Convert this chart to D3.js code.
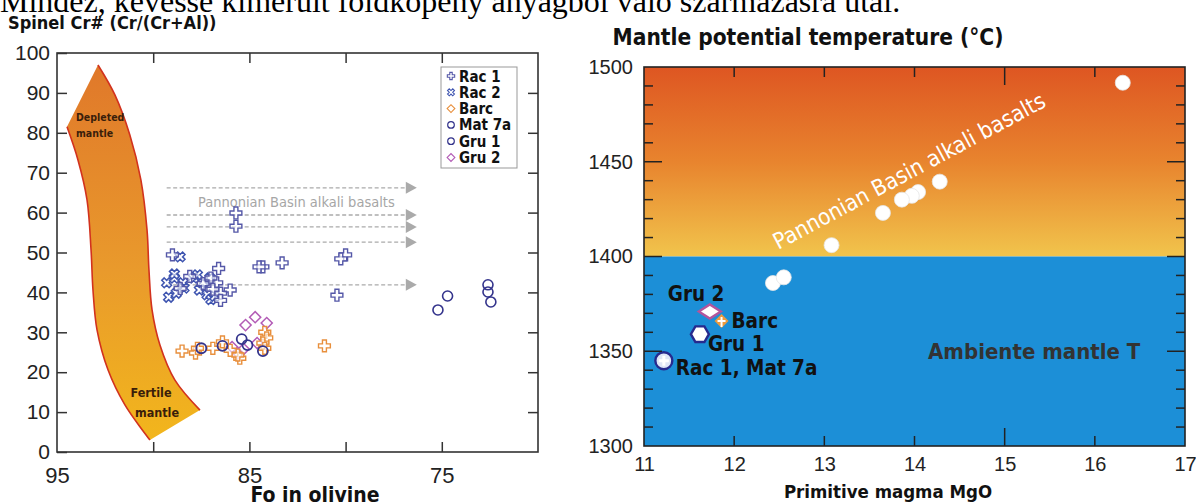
<!DOCTYPE html>
<html>
<head>
<meta charset="utf-8">
<script src="https://cdn.jsdelivr.net/npm/d3@7"></script>
<style>
  html, body { margin: 0; padding: 0; background: #fff; }
  svg { display: block; }
  .tick text { font-family: "Liberation Sans", Arial, sans-serif; fill: #222; }
  .comic { font-family: "DejaVu Sans Condensed", "DejaVu Sans", sans-serif; font-weight: bold; }
</style>
</head>
<body>
<svg id="chart" width="1196" height="504"></svg>
<script>
// ---- left panel data: spinel Cr# vs Fo in olivine ----
const rac1 = [[85.7,59.9],[85.7,56.6],[80.0,49.4],[80.25,48.4],[83.3,47.4],[84.3,46.4],[80.45,39.3],
  [89.0,49.4],[86.6,46.0],[84.5,46.4],[86.7,42.4],[86.0,40.6],[86.5,39.8],[86.5,38.0],
  [88.1,44.0],[87.4,42.2],[87.0,43.6],[86.9,40.8],[88.6,41.0]];
const rac2 = [[89.3,42.4],[88.9,43.6],[88.45,42.4],[87.9,43.6],[87.4,42.4],[87.05,43.6],[89.2,38.8],
  [88.4,41.1],[87.6,40.6],[88.8,39.8],[88.6,48.9],[88.9,44.6],[87.7,44.4],[87.2,39.4],[87.0,38.2],[86.8,39.0]];
const barc = [[88.5,25.3],[87.8,24.8],[87.7,26.0],[86.9,26.0],[86.4,27.6],[85.5,23.5],[85.6,24.3],
  [84.2,30.0],[84.1,28.6],[84.3,27.3],[81.1,26.6],[86.0,25.5],[84.2,26.0]];
const mat7a = [[75.2,35.6],[74.7,39.1],[72.6,41.9],[72.6,40.1],[72.45,37.6]];
const gru1 = [[87.5,26.0],[86.4,26.6],[85.4,28.3],[85.1,26.8],[84.3,25.3]];
const gru2 = [[84.7,33.8],[85.2,31.8],[84.1,32.3],[85.9,26.3],[84.6,27.3],[85.6,24.8],[85.3,25.8]];
const legendNames = ["Rac 1", "Rac 2", "Barc", "Mat 7a", "Gru 1", "Gru 2"];

// Pannonian Basin alkali basalt Cr# levels (dashed arrows) and their Fo span
const basaltCr = [66.2, 59.4, 56.4, 52.6, 41.9];
const basaltFo = [89.3, 76.3];

// mantle array band (Fo, Cr#)
const bandRight = [[92.87,97.0],[91.99,89.5],[91.21,79.4],[90.64,68.2],[90.32,55.6],[90.22,45.6],
  [90.06,35.6],[89.65,26.8],[88.87,18.0],[87.57,10.5]];
const bandLeft = [[94.48,81.5],[93.91,73.2],[93.44,63.2],[93.23,50.6],[93.13,40.6],[92.92,30.6],
  [92.35,20.6],[91.47,11.8],[90.17,3.0]];

const leftYTicks = d3.range(0, 101, 10);
const leftXTicks = [95, 90, 85, 80, 75, 70];
const leftXLabels = [95, 85, 75];

// ---- right panel data: mantle potential temperature vs primitive magma MgO ----
const basaltMgO = [16.31, 14.28, 14.04, 13.97, 13.86, 13.65, 13.08, 12.43, 12.55];
const basaltT = [1491.7, 1439.5, 1434, 1432, 1430, 1423, 1406, 1386, 1389];
const sampleNames = ["Gru 2", "Barc", "Gru 1", "Rac 1, Mat 7a"];
const sampleMgO = [11.73, 11.86, 11.62, 11.22];
const sampleT = [1371, 1366, 1359, 1345];
const rightXTicks = [11, 12, 13, 14, 15, 16, 17];
const rightYTicks = [1300, 1350, 1400, 1450, 1500];
const ambientT = 1400;

const svg = d3.select("#chart");
const defs = svg.append("defs");
const fmt = d3.format("d");

// caption line cut off at the top of the picture
svg.append("text")
  .attr("x", 0).attr("y", 12)
  .style("font-family", "'Liberation Serif', 'Times New Roman', serif")
  .style("font-size", "32px")
  .text("Mindez, kevésse kimerült földköpeny anyagból való származásra utal.");

// ================= LEFT PANEL =================
const xL = d3.scaleLinear().domain([95, 70]).range([57, 538]);
const yL = d3.scaleLinear().domain([0, 100]).range([452, 53]);
const gL = svg.append("g");

const bandGrad = defs.append("linearGradient").attr("id", "bandGrad")
  .attr("x1", 0).attr("y1", 0).attr("x2", 0).attr("y2", 1);
bandGrad.append("stop").attr("offset", "0%").attr("stop-color", "#e0782a");
bandGrad.append("stop").attr("offset", "55%").attr("stop-color", "#e99a2c");
bandGrad.append("stop").attr("offset", "100%").attr("stop-color", "#f2b61c");

const curve = d3.line().x(d => xL(d[0])).y(d => yL(d[1])).curve(d3.curveCatmullRom);
const bandPath = "M" + curve(bandRight).slice(1) + "L" + curve(bandLeft.slice().reverse()).slice(1) + "Z";
gL.append("path").attr("d", bandPath).attr("fill", "url(#bandGrad)");
gL.append("path").attr("d", curve(bandRight)).attr("fill", "none").attr("stroke", "#d2321e").attr("stroke-width", 1.6);
gL.append("path").attr("d", curve(bandLeft)).attr("fill", "none").attr("stroke", "#d2321e").attr("stroke-width", 1.6);

gL.append("text").attr("class", "comic").attr("x", 76).attr("y", 121)
  .style("font-size", "10.5px").attr("fill", "#3a1e0a").text("Depleted");
gL.append("text").attr("class", "comic").attr("x", 76).attr("y", 137)
  .style("font-size", "10.5px").attr("fill", "#3a1e0a").text("mantle");
gL.append("text").attr("class", "comic").attr("x", 151).attr("y", 397).attr("text-anchor", "middle")
  .style("font-size", "12.5px").attr("fill", "#3a1e0a").text("Fertile");
gL.append("text").attr("class", "comic").attr("x", 157).attr("y", 417).attr("text-anchor", "middle")
  .style("font-size", "12.5px").attr("fill", "#3a1e0a").text("mantle");

// dashed arrows for Pannonian basalts
const arrowG = gL.append("g");
basaltCr.forEach(c => {
  const x0 = xL(basaltFo[0]), x1 = xL(basaltFo[1]), y = yL(c);
  arrowG.append("line").attr("x1", x0).attr("x2", x1 - 9).attr("y1", y).attr("y2", y)
    .attr("stroke", "#aaa").attr("stroke-width", 1.3).attr("stroke-dasharray", "4,2.5");
  arrowG.append("path").attr("d", `M${x1 - 11},${y - 6}L${x1},${y}L${x1 - 11},${y + 6}Z`).attr("fill", "#aaa");
});
gL.append("text").attr("x", 198).attr("y", 207)
  .style("font-family", "'DejaVu Sans Condensed', 'DejaVu Sans', sans-serif").style("font-size", "14.5px")
  .attr("fill", "#a6a6a6").text("Pannonian Basin alkali basalts");

// symbols
const crossPath = d3.symbol(d3.symbolCross, 78)();
const xPath = d3.symbol(d3.symbolCross, 60)();
const diamPath = d3.symbol(d3.symbolSquare, 62)();
const styles = {
  "Rac 1": { data: rac1, d: crossPath, rot: 0, color: "#5558a8", sw: 1.4 },
  "Rac 2": { data: rac2, d: xPath, rot: 45, color: "#3f55b0", sw: 1.5 },
  "Barc": { data: barc, d: crossPath, rot: 0, color: "#e88f3c", sw: 1.4 },
  "Mat 7a": { data: mat7a, circle: 5, color: "#34348c", sw: 1.6 },
  "Gru 1": { data: gru1, circle: 5, color: "#34348c", sw: 1.8 },
  "Gru 2": { data: gru2, d: diamPath, rot: 45, color: "#b35cb6", sw: 1.5 }
};
["Gru 2", "Barc", "Gru 1", "Mat 7a", "Rac 2", "Rac 1"].forEach(name => {
  const s = styles[name];
  const sel = gL.append("g").selectAll("g").data(s.data).join("g")
    .attr("transform", d => `translate(${xL(d[0])},${yL(d[1])})`);
  if (s.circle) {
    sel.append("circle").attr("r", s.circle).attr("fill", "none")
      .attr("stroke", s.color).attr("stroke-width", s.sw);
  } else {
    sel.append("path").attr("d", s.d).attr("transform", `rotate(${s.rot})`)
      .attr("fill", "rgba(255,255,255,0.6)").attr("stroke", s.color).attr("stroke-width", s.sw);
  }
});

// legend
const leg = gL.append("g").attr("transform", "translate(441,67)");
leg.append("rect").attr("width", 76).attr("height", 101).attr("fill", "#fff")
  .attr("stroke", "#999").attr("stroke-width", 1);
legendNames.forEach((name, i) => {
  const s = styles[name];
  const row = leg.append("g").attr("transform", `translate(10,${9 + i * 16.3})`);
  if (s.circle) {
    row.append("circle").attr("r", 3.3).attr("fill", "none").attr("stroke", s.color).attr("stroke-width", 1.2);
  } else {
    const type = name === "Gru 2" || name === "Barc" ? d3.symbolSquare : d3.symbolCross;
    const rot = name === "Barc" ? 45 : s.rot;
    row.append("path").attr("d", d3.symbol(type, 30)())
      .attr("transform", `rotate(${rot})`).attr("fill", "none").attr("stroke", s.color).attr("stroke-width", 1.1);
  }
  row.append("text").attr("class", "comic").attr("x", 8).attr("y", 5.5)
    .style("font-size", "15px").attr("fill", "#111").text(name);
});

// frame and axes
gL.append("rect").attr("x", xL(95)).attr("y", yL(100)).attr("width", xL(70) - xL(95))
  .attr("height", yL(0) - yL(100)).attr("fill", "none").attr("stroke", "#333").attr("stroke-width", 1.6);
gL.append("g").attr("transform", `translate(${xL(95)},0)`)
  .call(d3.axisLeft(yL).tickValues(leftYTicks).tickSize(-10).tickPadding(7))
  .call(g => g.select(".domain").remove())
  .call(g => g.selectAll("text").style("font-size", "21px"));
gL.append("g").attr("transform", `translate(${xL(70)},0)`)
  .call(d3.axisRight(yL).tickValues(leftYTicks.slice(1, -1)).tickSize(-10).tickFormat(""))
  .call(g => g.select(".domain").remove());
gL.append("g").attr("transform", `translate(0,${yL(0)})`)
  .call(d3.axisBottom(xL).tickValues(leftXTicks).tickSize(-10).tickPadding(15)
    .tickFormat(d => leftXLabels.includes(d) ? d : ""))
  .call(g => g.select(".domain").remove())
  .call(g => g.selectAll(".tick").filter(d => d === 95 || d === 70).select("line").remove())
  .call(g => g.selectAll("text").style("font-size", "22px"));
gL.append("g").attr("transform", `translate(0,${yL(100)})`)
  .call(d3.axisTop(xL).tickValues(leftXTicks.slice(1, -1)).tickSize(-10).tickFormat(""))
  .call(g => g.select(".domain").remove());
gL.selectAll(".tick line").attr("stroke", "#333").attr("stroke-width", 1.5);

svg.append("text").attr("class", "comic").attr("x", 8).attr("y", 29)
  .style("font-size", "18px").attr("fill", "#111").text("Spinel Cr# (Cr/(Cr+Al))");
svg.append("text").attr("class", "comic").attr("x", 315).attr("y", 502).attr("text-anchor", "middle")
  .style("font-size", "21px").attr("fill", "#111").text("Fo in olivine");

// ================= RIGHT PANEL =================
const xR = d3.scaleLinear().domain([11, 17]).range([644, 1185]);
const yR = d3.scaleLinear().domain([1300, 1500]).range([446, 67]);
const gR = svg.append("g");

const hotGrad = defs.append("linearGradient").attr("id", "hotGrad")
  .attr("x1", 0).attr("y1", 0).attr("x2", 0).attr("y2", 1);
hotGrad.append("stop").attr("offset", "0%").attr("stop-color", "#de5622");
hotGrad.append("stop").attr("offset", "50%").attr("stop-color", "#e8842e");
hotGrad.append("stop").attr("offset", "100%").attr("stop-color", "#f1c44c");

gR.append("rect").attr("x", xR(11)).attr("y", yR(1500)).attr("width", xR(17) - xR(11))
  .attr("height", yR(ambientT) - yR(1500)).attr("fill", "url(#hotGrad)");
gR.append("rect").attr("x", xR(11)).attr("y", yR(ambientT)).attr("width", xR(17) - xR(11))
  .attr("height", yR(1300) - yR(ambientT)).attr("fill", "#1c8fd7");

gR.append("text").attr("transform", `translate(${xR(12.49)},${yR(1403.4)}) rotate(-28.2)`)
  .style("font-family", "'DejaVu Sans Condensed', 'DejaVu Sans', sans-serif").style("font-size", "22.5px")
  .attr("fill", "#fff").text("Pannonian Basin alkali basalts");

gR.append("g").selectAll("circle").data(basaltMgO).join("circle")
  .attr("cx", d => xR(d)).attr("cy", (d, i) => yR(basaltT[i])).attr("r", 7.5)
  .attr("fill", "#fff").attr("stroke", "#e6e6e6").attr("stroke-width", 0.8);

gR.append("text").attr("class", "comic").attr("x", xR(14.15)).attr("y", yR(1346))
  .style("font-size", "22px").attr("fill", "#333").text("Ambiente mantle T");

// sample markers
const labelOffsets = [[-42, -10], [10, 7], [8, 17], [12, 14]];
const sampleG = gR.append("g");
sampleNames.forEach((name, i) => {
  const g = sampleG.append("g").attr("transform", `translate(${xR(sampleMgO[i])},${yR(sampleT[i])})`);
  if (name === "Gru 2") {
    g.append("path").attr("d", "M-11,0L0,-7L11,0L0,7Z").attr("fill", "#fff")
      .attr("stroke", "#b2559c").attr("stroke-width", 2.4);
  } else if (name === "Barc") {
    g.append("path").attr("d", "M-7,0L0,-7L7,0L0,7Z").attr("fill", "#ec9a3e");
    g.append("path").attr("d", "M-4,0H4M0,-4V6").attr("stroke", "#fff").attr("stroke-width", 2);
  } else if (name === "Gru 1") {
    const hex = d3.range(6).map(k => [9 * Math.cos(k * Math.PI / 3), 9 * Math.sin(k * Math.PI / 3)]);
    g.append("path").attr("d", "M" + hex.join("L") + "Z").attr("fill", "#fff")
      .attr("stroke", "#262a8e").attr("stroke-width", 2.4);
  } else {
    g.append("circle").attr("r", 8.5).attr("fill", "#dfe6f6").attr("stroke", "#262a8e").attr("stroke-width", 2.4);
    g.append("path").attr("d", "M-5,0H5M0,-5V5").attr("stroke", "#fff").attr("stroke-width", 3);
  }
  sampleG.append("text").attr("class", "comic")
    .attr("x", xR(sampleMgO[i]) + labelOffsets[i][0]).attr("y", yR(sampleT[i]) + labelOffsets[i][1])
    .style("font-size", "20.5px").attr("fill", "#111").text(name);
});

// frame and axes
gR.append("rect").attr("x", xR(11)).attr("y", yR(1500)).attr("width", xR(17) - xR(11))
  .attr("height", yR(1300) - yR(1500)).attr("fill", "none").attr("stroke", "#222").attr("stroke-width", 1.6);
const minorT = d3.range(1310, 1500, 10);
function yTicks(g, side) {
  const x0 = side === "left" ? xR(11) : xR(17);
  const dir = side === "left" ? 1 : -1;
  g.selectAll("line").data(minorT).join("line")
    .attr("x1", x0).attr("x2", d => x0 + dir * (d % 50 === 0 ? 18 : 9))
    .attr("y1", d => yR(d)).attr("y2", d => yR(d))
    .attr("stroke", "#222").attr("stroke-width", 1.5);
}
gR.append("g").call(yTicks, "left");
gR.append("g").call(yTicks, "right");
gR.append("g").attr("transform", `translate(${xR(11)},0)`)
  .call(d3.axisLeft(yR).tickValues(rightYTicks).tickSize(0).tickPadding(11).tickFormat(fmt))
  .call(g => g.select(".domain").remove())
  .call(g => g.selectAll("text").style("font-size", "20px"));
gR.append("g").attr("transform", `translate(0,${yR(1300)})`)
  .call(d3.axisBottom(xR).tickValues(rightXTicks).tickSize(0).tickPadding(11).tickFormat(fmt))
  .call(g => g.select(".domain").remove())
  .call(g => g.selectAll("text").style("font-size", "20px"));
[yR(1300), yR(1500)].forEach(y0 => {
  const dir = y0 === yR(1300) ? -1 : 1;
  gR.append("g").selectAll("line").data(rightXTicks.slice(1, -1)).join("line")
    .attr("x1", d => xR(d)).attr("x2", d => xR(d))
    .attr("y1", y0).attr("y2", d => y0 + dir * (d === 15 ? 18 : 10))
    .attr("stroke", "#222").attr("stroke-width", 1.5);
});

svg.append("text").attr("class", "comic").attr("x", 808).attr("y", 45).attr("text-anchor", "middle")
  .style("font-size", "22.5px").attr("fill", "#111").text("Mantle potential temperature (°C)");
svg.append("text").attr("class", "comic").attr("x", 888).attr("y", 498).attr("text-anchor", "middle")
  .style("font-size", "18.5px").attr("fill", "#111").text("Primitive magma MgO");
</script>
</body>
</html>
